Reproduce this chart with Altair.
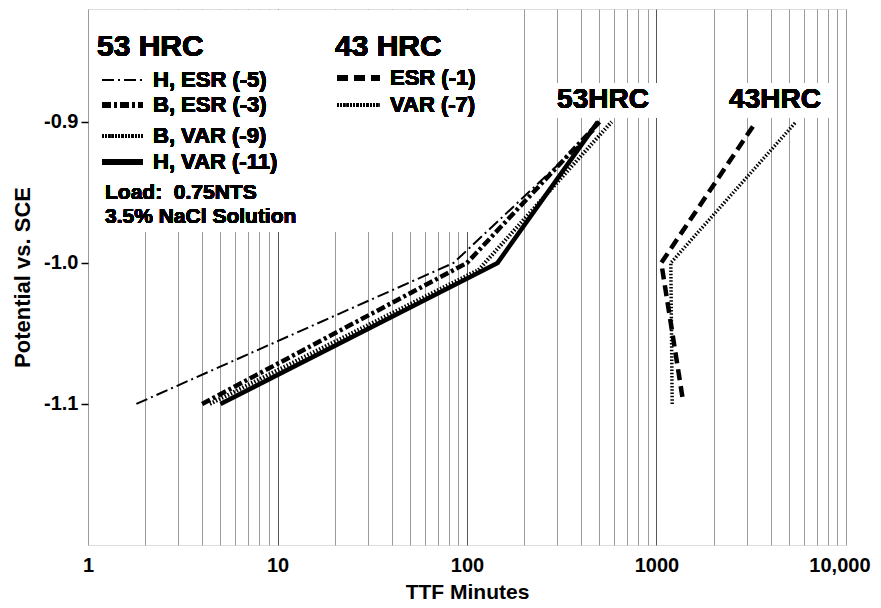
import altair as alt
import pandas as pd

# ---------------- data ----------------
series_names = ["H, ESR (-5)", "B, ESR (-3)", "B, VAR (-9)", "H, VAR (-11)", "ESR (-1)", "VAR (-7)"]
series_group = ["53 HRC", "53 HRC", "53 HRC", "53 HRC", "43 HRC", "43 HRC"]

h_esr_x = [1.8, 85, 480]
h_esr_y = [-1.1, -1.0, -0.905]
b_esr_x = [4.0, 100, 500]
b_esr_y = [-1.1, -1.0, -0.9]
b_var_x = [4.4, 115, 580]
b_var_y = [-1.1, -1.005, -0.9]
h_var_x = [5.0, 145, 490]
h_var_y = [-1.1, -1.0, -0.9]
esr43_x = [1370, 1060, 3350]
esr43_y = [-1.095, -1.0, -0.9]
var43_x = [1210, 1190, 5450]
var43_y = [-1.1, -1.0, -0.9]

series_x = [h_esr_x, b_esr_x, b_var_x, h_var_x, esr43_x, var43_x]
series_y = [h_esr_y, b_esr_y, b_var_y, h_var_y, esr43_y, var43_y]

x_tick_values = [1, 10, 100, 1000, 10000]
x_tick_labels = ["1", "10", "100", "1000", "10,000"]
y_tick_values = [-0.9, -1.0, -1.1]
y_tick_labels = ["-0.9", "-1.0", "-1.1"]
x_domain = [1, 10000]
y_domain = [-1.2, -0.82]

notes = ["Load:\u00a0 0.75NTS", "3.5% NaCl Solution"]
curve_labels = ["53HRC", "43HRC"]

# ---------------- styles / layout ----------------
FONT = "Liberation Sans"
styles = {
    "H, ESR (-5)": dict(strokeWidth=2, strokeDash=[12, 4, 2, 4]),
    "B, ESR (-3)": dict(strokeWidth=4.5, strokeDash=[9, 3, 3, 3]),
    "B, VAR (-9)": dict(strokeWidth=4, strokeDash=[1.5, 1.8]),
    "H, VAR (-11)": dict(strokeWidth=4.5),
    "ESR (-1)": dict(strokeWidth=4.5, strokeDash=[11, 6]),
    "VAR (-7)": dict(strokeWidth=3.5, strokeDash=[1.5, 1.8]),
}

grid_values = [m * 10 ** d for d in range(4) for m in range(1, 10)] + [10000]


def label_expr(vals, labels):
    expr = "''"
    for v, l in reversed(list(zip(vals, labels))):
        expr = f"abs(datum.value - ({v})) < 1e-6 ? '{l}' : ({expr})"
    return expr


rows = []
for name, grp, xs, ys in zip(series_names, series_group, series_x, series_y):
    for i, (xv, yv) in enumerate(zip(xs, ys)):
        rows.append({"series": grp + " " + name, "i": i, "x": xv, "y": yv})
df = pd.DataFrame(rows)

last_x = x_tick_values[-1]
x_enc = alt.X(
    "x:Q",
    scale=alt.Scale(type="log", domain=x_domain, nice=False),
    axis=alt.Axis(
        title="TTF Minutes",
        values=grid_values,
        grid=True,
        gridColor={"condition": {"test": "datum.value == 10 || datum.value == 100 || datum.value == 1000",
                                 "value": "#555555"}, "value": "#9a9a9a"},
        gridWidth=1,
        ticks=False,
        domain=False,
        labelExpr=label_expr(x_tick_values, x_tick_labels),
        labelAlign={"condition": {"test": f"datum.value == {last_x}", "value": "right"}, "value": "center"},
        labelOffset={"condition": {"test": f"datum.value == {last_x}", "value": 24}, "value": 0},
        labelPadding=10,
        labelFontSize=20,
        labelFont=FONT,
        labelFontWeight="bold",
        labelColor="black",
        labelOverlap=False,
        labelFlush=False,
        titleFontSize=21,
        titleFont=FONT,
        titleFontWeight="bold",
        titleColor="black",
        titlePadding=6,
    ),
)
y_enc = alt.Y(
    "y:Q",
    scale=alt.Scale(domain=y_domain, nice=False, zero=False),
    axis=alt.Axis(
        title="Potential vs. SCE",
        values=y_tick_values,
        grid=False,
        domain=False,
        ticks=True,
        tickSize=7,
        tickWidth=1.5,
        tickColor="black",
        labelExpr=label_expr(y_tick_values, y_tick_labels),
        labelPadding=3,
        labelFontSize=20,
        labelFont=FONT,
        labelFontWeight="bold",
        labelColor="black",
        titleFontSize=22,
        titleFont=FONT,
        titleFontWeight="bold",
        titleColor="black",
        titlePadding=9,
    ),
)

layers = []
for name, grp in zip(series_names, series_group):
    sid = grp + " " + name
    layers.append(
        alt.Chart(df)
        .transform_filter(alt.datum.series == sid)
        .mark_line(color="black", strokeCap="butt", strokeJoin="miter", **styles[name])
        .encode(x=x_enc, y=y_enc, order=alt.Order("i:Q"))
    )

# white boxes behind the legend block and curve labels (plot-relative pixels)
boxes = [(1.5, 432, 1.5, 223), (460, 570, 74, 109), (632, 742, 74, 109)]
box_layers = []
for x1, x2, y1, y2 in boxes:
    box_layers.append(
        alt.Chart(df).mark_rect(color="white")
        .encode(x=alt.value(x1), x2=alt.value(x2), y=alt.value(y1), y2=alt.value(y2))
    )


def text_layer(txt, x, y, size, align="left"):
    return alt.Chart(df).mark_text(
        align=align, baseline="middle", font=FONT, fontWeight="bold", fontSize=size, color="black"
    ).encode(x=alt.value(x), y=alt.value(y), text=alt.value(txt))


def sample_layer(name, x1, x2, y):
    return alt.Chart(df).mark_rule(color="black", strokeCap="butt", **styles[name]).encode(
        x=alt.value(x1), x2=alt.value(x2), y=alt.value(y)
    )


legend_layers = []
legend_layers.append(text_layer(series_group[0], 9, 38, 30))
legend_layers.append(text_layer(series_group[4], 247, 38, 30))
rows53 = [71, 96, 127, 153]
for name, yy in zip(series_names[:4], rows53):
    legend_layers.append(sample_layer(name, 14, 55, yy))
    legend_layers.append(text_layer(name, 65, yy, 22))
rows43 = [69, 96]
for name, yy in zip(series_names[4:], rows43):
    legend_layers.append(sample_layer(name, 249, 292, yy))
    legend_layers.append(text_layer(name, 302, yy, 22))
legend_layers.append(text_layer(notes[0], 17, 184, 21))
legend_layers.append(text_layer(notes[1], 17, 208, 21))
legend_layers.append(text_layer(curve_labels[0], 515, 91, 28, align="center"))
legend_layers.append(text_layer(curve_labels[1], 687, 91, 28, align="center"))

chart = (
    alt.layer(*box_layers, *layers, *legend_layers)
    .properties(
        width=758,
        height=536,
        padding={"left": 80, "top": 1, "right": 27, "bottom": 62},
        autosize=alt.AutoSizeParams(type="none"),
    )
    .configure_view(stroke="black", strokeWidth=2)
    .configure(background="white")
)

chart.save("out.html", embed_options={"renderer": "svg", "actions": False})
